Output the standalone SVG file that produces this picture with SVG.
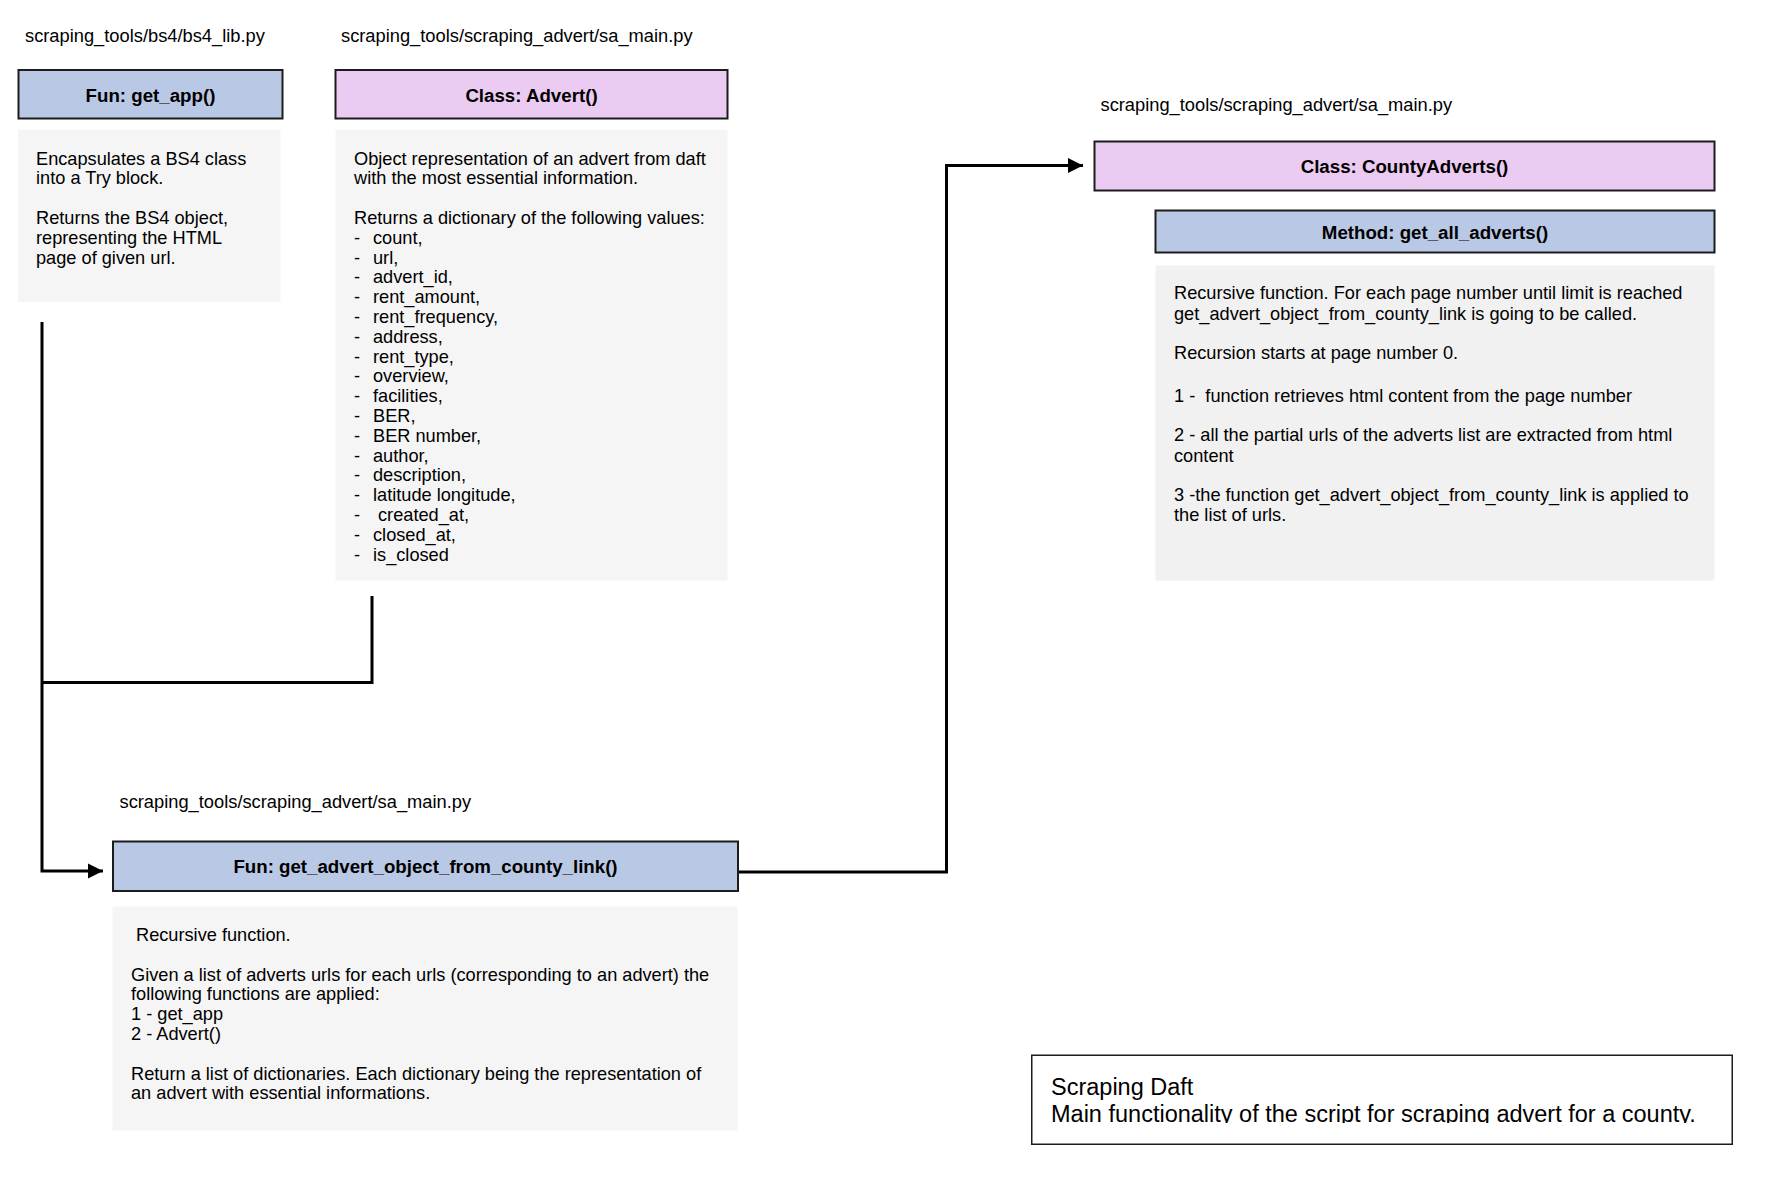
<svg xmlns="http://www.w3.org/2000/svg" width="1766" height="1197" viewBox="0 0 1766 1197">
  <style>
    text { font-family: "Liberation Sans", Arial, Helvetica, sans-serif; fill: #000; }
    .path { font-size: 18.3px; }
    .title { font-size: 18.7px; font-weight: bold; text-anchor: middle; }
    .body { font-size: 18.2px; }
    .head-fun { fill: #b9c8e4; stroke: #1c1c1c; stroke-width: 2; }
    .head-class { fill: #eccbf2; stroke: #1c1c1c; stroke-width: 2; }
    .desc { fill: #f5f5f5; stroke: none; }
    .desc-alt { fill: #f1f1f1; stroke: none; }
    .edge { fill: none; stroke: #000; stroke-width: 3; }
    .note { fill: #fff; stroke: #1c1c1c; stroke-width: 1.5; }
    .note-text { font-size: 23.5px; }
  </style>
  <defs>
    <marker id="arrow" markerUnits="userSpaceOnUse" markerWidth="16" markerHeight="16" refX="15" refY="8" orient="auto">
      <path d="M0,0.5 L15,8 L0,15.5 Z" fill="#000"/>
    </marker>
    <clipPath id="note-clip">
      <rect x="1031" y="1055" width="702" height="68"/>
    </clipPath>
  </defs>

  <rect width="1766" height="1197" fill="#fff"/>

  <!-- connectors -->
  <g id="connectors">
    <path class="edge" d="M42,322 V871 H103" marker-end="url(#arrow)"/>
    <path class="edge" d="M372,596 V682.5 H42"/>
    <path class="edge" d="M738,872 H946.5 V165.5 H1083" marker-end="url(#arrow)"/>
  </g>

  <!-- bs4_lib.get_app -->
  <g id="node-get-app">
    <text class="path" x="25" y="42">scraping_tools/bs4/bs4_lib.py</text>
    <rect class="head-fun" x="18.5" y="70" width="264" height="48.5"/>
    <text class="title" x="150.5" y="101.5">Fun: get_app()</text>
    <rect class="desc" x="18" y="129.5" width="262.5" height="172.5"/>
    <text class="body" x="36">
      <tspan x="36" y="164.5">Encapsulates a BS4 class</tspan>
      <tspan x="36" y="184.3">into a Try block.</tspan>
      <tspan x="36" y="223.9">Returns the BS4 object,</tspan>
      <tspan x="36" y="243.7">representing the HTML</tspan>
      <tspan x="36" y="263.5">page of given url.</tspan>
    </text>
  </g>

  <!-- sa_main.Advert -->
  <g id="node-advert">
    <text class="path" x="341" y="42">scraping_tools/scraping_advert/sa_main.py</text>
    <rect class="head-class" x="335.5" y="70" width="392" height="48.5"/>
    <text class="title" x="531.5" y="101.5">Class: Advert()</text>
    <rect class="desc" x="335.5" y="129.5" width="392" height="451"/>
    <text class="body">
      <tspan x="354" y="164.5">Object representation of an advert from daft</tspan>
      <tspan x="354" y="184.3">with the most essential information.</tspan>
      <tspan x="354" y="223.9">Returns a dictionary of the following values:</tspan>
    </text>
    <g class="body">
      <text class="body" x="354" y="243.7">-</text><text class="body" x="373" y="243.7">count,</text>
      <text class="body" x="354" y="263.5">-</text><text class="body" x="373" y="263.5">url,</text>
      <text class="body" x="354" y="283.3">-</text><text class="body" x="373" y="283.3">advert_id,</text>
      <text class="body" x="354" y="303.1">-</text><text class="body" x="373" y="303.1">rent_amount,</text>
      <text class="body" x="354" y="322.9">-</text><text class="body" x="373" y="322.9">rent_frequency,</text>
      <text class="body" x="354" y="342.7">-</text><text class="body" x="373" y="342.7">address,</text>
      <text class="body" x="354" y="362.5">-</text><text class="body" x="373" y="362.5">rent_type,</text>
      <text class="body" x="354" y="382.3">-</text><text class="body" x="373" y="382.3">overview,</text>
      <text class="body" x="354" y="402.1">-</text><text class="body" x="373" y="402.1">facilities,</text>
      <text class="body" x="354" y="421.9">-</text><text class="body" x="373" y="421.9">BER,</text>
      <text class="body" x="354" y="441.7">-</text><text class="body" x="373" y="441.7">BER number,</text>
      <text class="body" x="354" y="461.5">-</text><text class="body" x="373" y="461.5">author,</text>
      <text class="body" x="354" y="481.3">-</text><text class="body" x="373" y="481.3">description,</text>
      <text class="body" x="354" y="501.1">-</text><text class="body" x="373" y="501.1">latitude longitude,</text>
      <text class="body" x="354" y="520.9">-</text><text class="body" x="378" y="520.9">created_at,</text>
      <text class="body" x="354" y="540.7">-</text><text class="body" x="373" y="540.7">closed_at,</text>
      <text class="body" x="354" y="560.5">-</text><text class="body" x="373" y="560.5">is_closed</text>
    </g>
  </g>

  <!-- sa_main.CountyAdverts -->
  <g id="node-county-adverts">
    <text class="path" x="1100.5" y="110.5">scraping_tools/scraping_advert/sa_main.py</text>
    <rect class="head-class" x="1094.5" y="141.5" width="620" height="49"/>
    <text class="title" x="1404.5" y="172.5">Class: CountyAdverts()</text>
  </g>

  <!-- CountyAdverts.get_all_adverts -->
  <g id="node-get-all-adverts">
    <rect class="head-fun" x="1155.5" y="210.5" width="559" height="42"/>
    <text class="title" x="1435" y="238.5">Method: get_all_adverts()</text>
    <rect class="desc-alt" x="1155.5" y="265.5" width="559" height="315"/>
    <text class="body">
      <tspan x="1174" y="299.3">Recursive function. For each page number until limit is reached</tspan>
      <tspan x="1174" y="319.6">get_advert_object_from_county_link is going to be called.</tspan>
      <tspan x="1174" y="359">Recursion starts at page number 0.</tspan>
      <tspan x="1174" y="401.8" xml:space="preserve">1 -  function retrieves html content from the page number</tspan>
      <tspan x="1174" y="441.2">2 - all the partial urls of the adverts list are extracted from html</tspan>
      <tspan x="1174" y="461.5">content</tspan>
      <tspan x="1174" y="500.9">3 -the function get_advert_object_from_county_link is applied to</tspan>
      <tspan x="1174" y="521.2">the list of urls.</tspan>
    </text>
  </g>

  <!-- sa_main.get_advert_object_from_county_link -->
  <g id="node-get-advert-object">
    <text class="path" x="119.5" y="808">scraping_tools/scraping_advert/sa_main.py</text>
    <rect class="head-fun" x="113" y="841.5" width="625" height="49.5"/>
    <text class="title" x="425.5" y="873">Fun: get_advert_object_from_county_link()</text>
    <rect class="desc" x="112.5" y="906.5" width="625" height="224"/>
    <text class="body">
      <tspan x="136" y="941">Recursive function.</tspan>
      <tspan x="131" y="980.6">Given a list of adverts urls for each urls (corresponding to an advert) the</tspan>
      <tspan x="131" y="1000.4">following functions are applied:</tspan>
      <tspan x="131" y="1020.2">1 - get_app</tspan>
      <tspan x="131" y="1040">2 - Advert()</tspan>
      <tspan x="131" y="1079.6">Return a list of dictionaries. Each dictionary being the representation of</tspan>
      <tspan x="131" y="1099.4">an advert with essential informations.</tspan>
    </text>
  </g>

  <!-- title note -->
  <g id="node-title">
    <rect class="note" x="1031.75" y="1055.25" width="700.5" height="89"/>
    <text class="note-text" clip-path="url(#note-clip)">
      <tspan x="1051" y="1095">Scraping Daft</tspan>
      <tspan x="1051" y="1121.5">Main functionality of the script for scraping advert for a county.</tspan>
    </text>
  </g>
</svg>
